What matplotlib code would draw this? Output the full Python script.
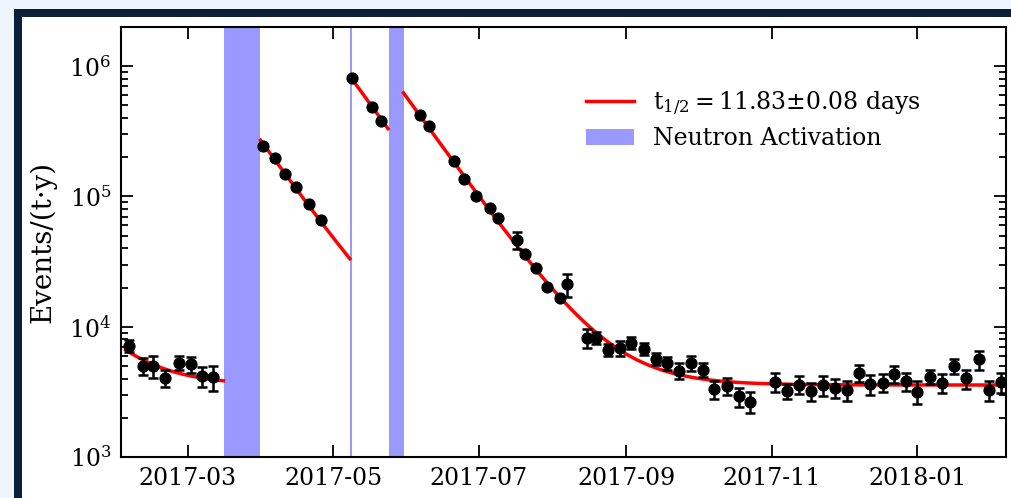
import numpy as np
import pandas as pd
import matplotlib
matplotlib.use("Agg")
import matplotlib.pyplot as plt
import matplotlib.dates as mdates
from matplotlib.patches import Rectangle, Patch
from matplotlib.lines import Line2D

plt.rcParams['font.family'] = 'DejaVu Serif'
plt.rcParams['mathtext.fontset'] = 'dejavuserif'

# measured rates (events per tonne-year), binned
dates = [
    '2017-02-04 07:00', '2017-02-10 10:00', '2017-02-14 14:00', '2017-02-19 14:00',
    '2017-02-25 05:00', '2017-03-02 10:00', '2017-03-06 22:00', '2017-03-11 10:00',
    '2017-04-01 12:00', '2017-04-06 12:00', '2017-04-10 22:00', '2017-04-15 14:00',
    '2017-04-21', '2017-04-26',
    '2017-05-09', '2017-05-17 10:00', '2017-05-21 05:00',
    '2017-06-06 12:00', '2017-06-10 07:00', '2017-06-20 14:00', '2017-06-25',
    '2017-06-29 22:00', '2017-07-05 14:00', '2017-07-09', '2017-07-17',
    '2017-07-20 12:00', '2017-07-25 05:00', '2017-07-29 17:00', '2017-08-04',
    '2017-08-07', '2017-08-15 07:00', '2017-08-19 05:00', '2017-08-24 05:00',
    '2017-08-29 05:00', '2017-09-03', '2017-09-08 05:00', '2017-09-13 07:00',
    '2017-09-18', '2017-09-23 05:00', '2017-09-28 05:00', '2017-10-03 05:00',
    '2017-10-07 19:00', '2017-10-13', '2017-10-18 05:00', '2017-10-23',
    '2017-11-02 12:00', '2017-11-07 10:00', '2017-11-12 10:00', '2017-11-17 10:00',
    '2017-11-22 12:00', '2017-11-27 10:00', '2017-12-02 12:00', '2017-12-07 10:00',
    '2017-12-12', '2017-12-17 14:00', '2017-12-22 07:00', '2017-12-27 10:00',
    '2017-12-31 22:00', '2018-01-06 10:00', '2018-01-11 10:00', '2018-01-16 07:00',
    '2018-01-21 07:00', '2018-01-26 19:00', '2018-01-31 05:00', '2018-02-05 02:00',
]
rates = [
    7150, 5020, 4980, 4060, 5290, 5170, 4170, 4090,
    243000, 197000, 147600, 117300, 87800, 65500,
    819000, 487000, 383000,
    423000, 346000, 186700, 135800, 100000, 81400, 68200, 46500,
    36100, 28300, 20050, 16540, 21250, 8190, 8260, 6680,
    6860, 7530, 6780, 5690, 5245, 4610, 5260, 4680,
    3310, 3520, 2920, 2660,
    3780, 3190, 3590, 3210, 3570, 3400, 3270, 4440,
    3610, 3720, 4340, 3810, 3170, 4130, 3720, 4990,
    4020, 5620, 3240, 3750,
]
errors = [
    750, 740, 960, 610, 660, 730, 715, 875,
    5000, 4000, 3000, 2400, 1800, 1400,
    12000, 8000, 6000,
    8000, 6500, 3500, 2600, 2000, 1600, 1400, 6800,
    900, 700, 600, 500, 4300, 1370, 840, 710,
    880, 740, 690, 640, 620, 640, 700, 590,
    540, 520, 490, 485,
    630, 420, 570, 520, 630, 540, 560, 660,
    640, 590, 615, 580, 635, 520, 615, 630,
    665, 945, 570, 630,
]

# neutron activation periods
act_start = ['2017-03-16', '2017-05-08', '2017-05-24 10:00']
act_end = ['2017-03-31 12:00', '2017-05-08 18:00', '2017-05-30 12:00']

# decay fit: background + exponential per segment
T_HALF = 11.83
BKG = 3570
fit_start = ['2017-02-03', '2017-03-31 12:00', '2017-05-08 18:00', '2017-05-30 12:00']
fit_end = ['2017-03-16', '2017-05-08', '2017-05-24', '2018-02-07 05:00']
fit_amp = [3050, 267000, 801000, 620000]

t = pd.to_datetime(dates, format='mixed')

fig = plt.figure(figsize=(10.11, 4.98), dpi=100)
fig.patch.set_facecolor('#eef5fd')
W, H = 1011, 498
fig.patches.append(Rectangle((14 / W, 0), 1, 1 - 9 / H, transform=fig.transFigure,
                             facecolor='#0b1f3b', edgecolor='none', zorder=-2))
fig.patches.append(Rectangle((22 / W, 0), 1, 1 - 17 / H, transform=fig.transFigure,
                             facecolor='white', edgecolor='none', zorder=-1))

ax = fig.add_axes([121 / W, 1 - 457 / H, (1006 - 121) / W, (457 - 27) / H])

for s, e in zip(act_start, act_end):
    ax.axvspan(pd.Timestamp(s), pd.Timestamp(e), color='blue', alpha=0.4, lw=0, zorder=1)

for s, e, a in zip(fit_start, fit_end, fit_amp):
    tt = pd.date_range(s, e, periods=300)
    days = (tt - pd.Timestamp(s)) / pd.Timedelta(days=1)
    ax.plot(tt, BKG + a * 2.0 ** (-np.asarray(days) / T_HALF), color='red', lw=2.5, zorder=2)

ax.errorbar(t, rates, yerr=errors, fmt='o', color='black', ms=7.8, elinewidth=1.8,
            capsize=3.3, capthick=1.8, zorder=3)

ax.set_yscale('log')
ax.set_ylim(1e3, 2e6)
ax.set_xlim(pd.Timestamp('2017-02-01'), pd.Timestamp('2018-02-07 05:00'))
ax.xaxis.set_major_locator(mdates.MonthLocator(bymonth=[1, 3, 5, 7, 9, 11]))
ax.xaxis.set_major_formatter(mdates.DateFormatter('%Y-%m'))

ax.tick_params(which='both', direction='in', top=True, right=True, width=1.3, labelsize=17)
ax.tick_params(which='major', length=8.5, pad=7)
ax.tick_params(which='minor', length=5.2)
for sp in ax.spines.values():
    sp.set_linewidth(1.5)

ax.set_ylabel('Events/(t·y)', fontsize=20, labelpad=9)

handles = [Line2D([], [], color='red', lw=2.5),
           Patch(facecolor='blue', alpha=0.4, lw=0)]
labels = [r'$\mathrm{t_{1/2}=11.83}$±0.08 days', 'Neutron Activation']
ax.legend(handles, labels, loc='upper right', bbox_to_anchor=(0.928, 0.905), frameon=False,
          fontsize=17, handlelength=2.05, handletextpad=0.8, labelspacing=0.4)

fig.savefig('out.png', dpi=100, facecolor=fig.get_facecolor())
